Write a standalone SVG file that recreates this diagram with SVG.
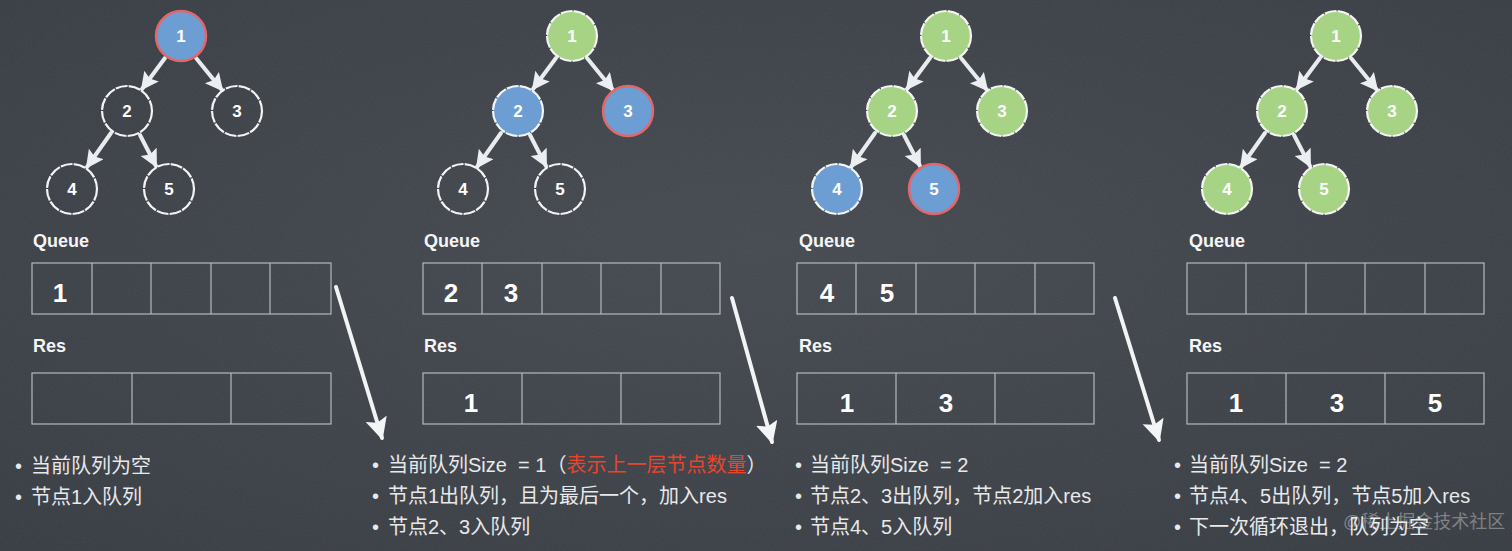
<svg xmlns="http://www.w3.org/2000/svg" width="1512" height="551" viewBox="0 0 1512 551">
<defs>
<radialGradient id="bg" cx="50%" cy="45%" r="75%">
<stop offset="0" stop-color="#44484f"/>
<stop offset="1" stop-color="#363a41"/>
</radialGradient>
<filter id="noise" x="0" y="0" width="100%" height="100%">
<feTurbulence type="fractalNoise" baseFrequency="0.9" numOctaves="2" seed="3" result="n"/>
<feColorMatrix in="n" type="matrix" values="0 0 0 0 1  0 0 0 0 1  0 0 0 0 1  0 0 0 0.06 0"/>
</filter>
<marker id="ah" markerUnits="userSpaceOnUse" markerWidth="20" markerHeight="20" refX="16" refY="9" orient="auto">
<path d="M0,0 L18,9 L0,18 L3,9 z" fill="#eceff2"/>
</marker>
<marker id="bigah" markerUnits="userSpaceOnUse" markerWidth="24" markerHeight="24" refX="20" refY="11" orient="auto">
<path d="M0,0 L22,11 L0,22 L4,11 z" fill="#f4f5f6"/>
</marker>
</defs>
<style>
.edge{stroke:#e9ecef;stroke-width:4;fill:none;stroke-linecap:round;marker-end:url(#ah)}
.big{stroke:#f2f3f4;stroke-width:4;fill:none;stroke-linecap:round;marker-end:url(#bigah)}
.n{stroke:#f4f4f4;stroke-width:2.2;stroke-dasharray:12 1.2}
.empty{fill:none}
.blue{fill:#6d9ed3}
.green{fill:#a6d484}
.red{stroke:#e2676a;stroke-dasharray:none;stroke-width:2.5}
.nl{font-family:"Liberation Sans",Arial,sans-serif;font-weight:bold;font-size:17px;fill:#ffffff;text-anchor:middle}
.lbl{font-family:"Liberation Sans",Arial,sans-serif;font-weight:bold;font-size:18px;fill:#f5f5f5}
.cell{fill:none;stroke:#b5b9bf;stroke-width:1.2}
.qn{font-family:"Liberation Sans",Arial,sans-serif;font-weight:bold;font-size:26px;fill:#ffffff;text-anchor:middle}
.tx{font-family:"Liberation Sans","Noto Sans CJK SC",sans-serif;font-size:20px;fill:#e8e9ea}
.hl{fill:#e6462c}
.wm{font-family:"Liberation Sans","Noto Sans CJK SC",sans-serif;font-size:18px;fill:#ffffff;fill-opacity:0.35}
</style>
<rect width="1512" height="551" fill="url(#bg)"/>
<rect width="1512" height="551" filter="url(#noise)"/>

<g id="connectors">
<path class="edge" d="M165,58 L142,89"/>
<path class="edge" d="M196,58 L222,90"/>
<path class="edge" d="M111,133 L87,167"/>
<path class="edge" d="M140,135 L156,166"/>
<path class="edge" d="M556,58 L533,89"/>
<path class="edge" d="M587,58 L613,90"/>
<path class="edge" d="M501,133 L477,167"/>
<path class="edge" d="M530,135 L546,166"/>
<path class="edge" d="M930,58 L907,89"/>
<path class="edge" d="M961,58 L987,90"/>
<path class="edge" d="M875,133 L851,167"/>
<path class="edge" d="M904,135 L920,166"/>
<path class="edge" d="M1320,58 L1297,89"/>
<path class="edge" d="M1351,58 L1377,90"/>
<path class="edge" d="M1265,133 L1241,167"/>
<path class="edge" d="M1294,135 L1310,166"/>
<path class="big" d="M336,287 L382,438"/>
<path class="big" d="M732,298 L772,442"/>
<path class="big" d="M1115,298 L1159,440"/>
</g>

<!-- Panel 1 -->
<g id="p1-n1"><circle class="n blue red" cx="181" cy="36" r="25"/><text class="nl" x="181" y="42">1</text></g>
<g id="p1-n2"><circle class="n empty" cx="127" cy="111" r="25"/><text class="nl" x="127" y="117">2</text></g>
<g id="p1-n3"><circle class="n empty" cx="237" cy="111" r="25"/><text class="nl" x="237" y="117">3</text></g>
<g id="p1-n4"><circle class="n empty" cx="72" cy="189" r="25"/><text class="nl" x="72" y="195">4</text></g>
<g id="p1-n5"><circle class="n empty" cx="169" cy="189" r="25"/><text class="nl" x="169" y="195">5</text></g>
<g id="p1-queue">
<text class="lbl" x="33" y="247">Queue</text>
<rect class="cell" x="32" y="263" width="299" height="51"/>
<path class="cell" d="M92,263V314M151,263V314M211,263V314M270,263V314"/>
<text class="qn" x="60" y="302">1</text>
</g>
<g id="p1-res">
<text class="lbl" x="33" y="352">Res</text>
<rect class="cell" x="32" y="373" width="299" height="51"/>
<path class="cell" d="M132,373V424M231,373V424"/>
</g>
<g id="p1-text">
<text class="tx" x="15" y="473">•<tspan x="31">当前队列为空</tspan></text>
<text class="tx" x="15" y="504">•<tspan x="31">节点1入队列</tspan></text>
</g>

<!-- Panel 2 -->
<g id="p2-n1"><circle class="n green" cx="572" cy="36" r="25"/><text class="nl" x="572" y="42">1</text></g>
<g id="p2-n2"><circle class="n blue" cx="518" cy="111" r="25"/><text class="nl" x="518" y="117">2</text></g>
<g id="p2-n3"><circle class="n blue red" cx="628" cy="111" r="25"/><text class="nl" x="628" y="117">3</text></g>
<g id="p2-n4"><circle class="n empty" cx="463" cy="189" r="25"/><text class="nl" x="463" y="195">4</text></g>
<g id="p2-n5"><circle class="n empty" cx="560" cy="189" r="25"/><text class="nl" x="560" y="195">5</text></g>
<g id="p2-queue">
<text class="lbl" x="424" y="247">Queue</text>
<rect class="cell" x="423" y="263" width="297" height="51"/>
<path class="cell" d="M482,263V314M542,263V314M601,263V314M661,263V314"/>
<text class="qn" x="451" y="302">2</text>
<text class="qn" x="511" y="302">3</text>
</g>
<g id="p2-res">
<text class="lbl" x="424" y="352">Res</text>
<rect class="cell" x="423" y="373" width="297" height="51"/>
<path class="cell" d="M522,373V424M621,373V424"/>
<text class="qn" x="471" y="412">1</text>
</g>
<g id="p2-text">
<text class="tx" x="372" y="472">•<tspan x="388">当前队列Size &#160;= 1（</tspan><tspan class="hl">表示上一层节点数量</tspan>）</text>
<text class="tx" x="372" y="503">•<tspan x="388">节点1出队列，且为最后一个，加入res</tspan></text>
<text class="tx" x="372" y="534">•<tspan x="388">节点2、3入队列</tspan></text>
</g>

<!-- Panel 3 -->
<g id="p3-n1"><circle class="n green" cx="946" cy="36" r="25"/><text class="nl" x="946" y="42">1</text></g>
<g id="p3-n2"><circle class="n green" cx="892" cy="111" r="25"/><text class="nl" x="892" y="117">2</text></g>
<g id="p3-n3"><circle class="n green" cx="1002" cy="111" r="25"/><text class="nl" x="1002" y="117">3</text></g>
<g id="p3-n4"><circle class="n blue" cx="837" cy="189" r="25"/><text class="nl" x="837" y="195">4</text></g>
<g id="p3-n5"><circle class="n blue red" cx="934" cy="189" r="25"/><text class="nl" x="934" y="195">5</text></g>
<g id="p3-queue">
<text class="lbl" x="799" y="247">Queue</text>
<rect class="cell" x="797" y="263" width="297" height="51"/>
<path class="cell" d="M856,263V314M916,263V314M975,263V314M1035,263V314"/>
<text class="qn" x="827" y="302">4</text>
<text class="qn" x="887" y="302">5</text>
</g>
<g id="p3-res">
<text class="lbl" x="799" y="352">Res</text>
<rect class="cell" x="797" y="373" width="297" height="51"/>
<path class="cell" d="M896,373V424M995,373V424"/>
<text class="qn" x="847" y="412">1</text>
<text class="qn" x="946" y="412">3</text>
</g>
<g id="p3-text">
<text class="tx" x="795" y="472">•<tspan x="810">当前队列Size &#160;= 2</tspan></text>
<text class="tx" x="795" y="503">•<tspan x="810">节点2、3出队列，节点2加入res</tspan></text>
<text class="tx" x="795" y="534">•<tspan x="810">节点4、5入队列</tspan></text>
</g>

<!-- Panel 4 -->
<g id="p4-n1"><circle class="n green" cx="1336" cy="36" r="25"/><text class="nl" x="1336" y="42">1</text></g>
<g id="p4-n2"><circle class="n green" cx="1282" cy="111" r="25"/><text class="nl" x="1282" y="117">2</text></g>
<g id="p4-n3"><circle class="n green" cx="1392" cy="111" r="25"/><text class="nl" x="1392" y="117">3</text></g>
<g id="p4-n4"><circle class="n green" cx="1227" cy="189" r="25"/><text class="nl" x="1227" y="195">4</text></g>
<g id="p4-n5"><circle class="n green" cx="1324" cy="189" r="25"/><text class="nl" x="1324" y="195">5</text></g>
<g id="p4-queue">
<text class="lbl" x="1189" y="247">Queue</text>
<rect class="cell" x="1187" y="263" width="297" height="51"/>
<path class="cell" d="M1246,263V314M1306,263V314M1365,263V314M1425,263V314"/>
</g>
<g id="p4-res">
<text class="lbl" x="1189" y="352">Res</text>
<rect class="cell" x="1187" y="373" width="297" height="51"/>
<path class="cell" d="M1286,373V424M1385,373V424"/>
<text class="qn" x="1236" y="412">1</text>
<text class="qn" x="1337" y="412">3</text>
<text class="qn" x="1435" y="412">5</text>
</g>
<g id="p4-text">
<text class="tx" x="1174" y="472">•<tspan x="1189">当前队列Size &#160;= 2</tspan></text>
<text class="tx" x="1174" y="503">•<tspan x="1189">节点4、5出队列，节点5加入res</tspan></text>
<text class="tx" x="1174" y="534">•<tspan x="1189">下一次循环退出，队列为空</tspan></text>
</g>

<text class="wm" x="1343" y="528">@稀土掘金技术社区</text>
</svg>
